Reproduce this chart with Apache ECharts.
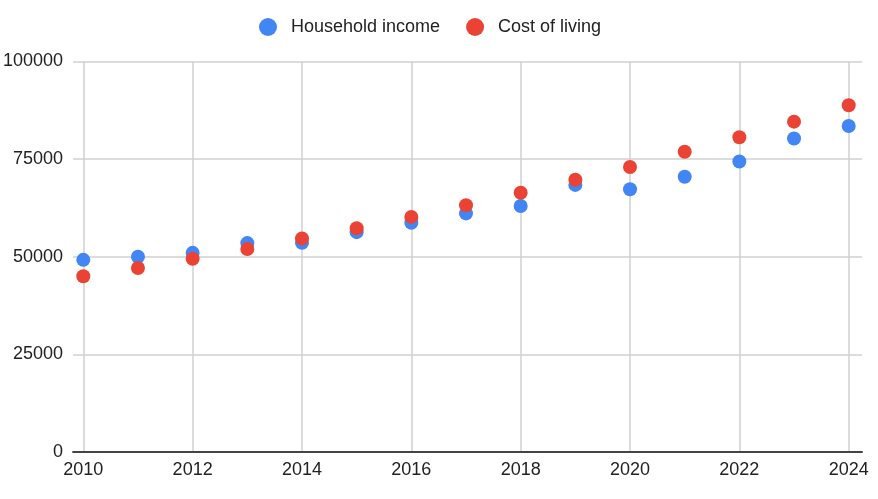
<!DOCTYPE html>
<html>
<head>
<meta charset="utf-8">
<script src="https://cdn.jsdelivr.net/npm/echarts@6/dist/echarts.min.js"></script>
<style>html,body{margin:0;padding:0;background:#fff;}#c{width:878px;height:499px;}</style>
</head>
<body>
<div id="c"></div>
<script>
var years = [2010, 2011, 2012, 2013, 2014, 2015, 2016, 2017, 2018, 2019, 2020, 2021, 2022, 2023, 2024];
var householdIncome = [49200, 50000, 51000, 53500, 53600, 56300, 58700, 61100, 63000, 68400, 67300, 70500, 74400, 80300, 83500];
var costOfLiving = [45000, 47100, 49500, 52000, 54700, 57300, 60200, 63200, 66400, 69700, 73000, 76900, 80600, 84600, 88800];
var seriesNames = ['Household income', 'Cost of living'];
var colors = ['#4285F4', '#EA4335'];

var FONT = '"Liberation Sans", Arial, sans-serif';
function pairs(vals) { return years.map(function (y, i) { return [y, vals[i]]; }); }
function plain(v) { return String(v); }

var chart = echarts.init(document.getElementById('c'), null, { renderer: 'canvas' });
chart.setOption({
  animation: false,
  backgroundColor: '#fff',
  color: colors,
  legend: {
    top: 13,
    left: 254,
    icon: 'circle',
    itemWidth: 18,
    itemHeight: 18,
    itemGap: 26,
    textStyle: { fontFamily: FONT, fontSize: 18, color: '#222', padding: [0, 0, 0, 9] },
    data: seriesNames
  },
  grid: [
    { left: 73, right: 16, top: 61.5, bottom: 47 },
    { left: 83.3, right: 29.3, top: 61.5, bottom: 47 }
  ],
  xAxis: [
    {
      gridIndex: 0, type: 'value', min: 0, max: 1,
      axisLine: { show: true, lineStyle: { color: '#444', width: 2 } },
      axisTick: { show: false }, axisLabel: { show: false }, splitLine: { show: false }
    },
    {
      gridIndex: 1, type: 'value', min: 2010, max: 2024, interval: 2,
      axisLine: { show: false }, axisTick: { show: false },
      axisLabel: { fontFamily: FONT, fontSize: 18, color: '#222', margin: 9, formatter: plain },
      splitLine: { show: true, lineStyle: { color: '#d0d0d0', width: 1.5 } }
    }
  ],
  yAxis: [
    {
      gridIndex: 0, type: 'value', min: 0, max: 100000, interval: 25000,
      axisLine: { show: false }, axisTick: { show: false },
      axisLabel: { fontFamily: FONT, fontSize: 18, color: '#222', margin: 10, formatter: plain },
      splitLine: { show: true, lineStyle: { color: '#d0d0d0', width: 1.5 } }
    },
    {
      gridIndex: 1, type: 'value', min: 0, max: 100000, show: false,
      splitLine: { show: false }
    }
  ],
  series: [
    {
      name: seriesNames[0], type: 'scatter', xAxisIndex: 1, yAxisIndex: 1,
      symbolSize: 14, itemStyle: { color: colors[0], opacity: 1 },
      data: pairs(householdIncome)
    },
    {
      name: seriesNames[1], type: 'scatter', xAxisIndex: 1, yAxisIndex: 1,
      symbolSize: 14, itemStyle: { color: colors[1], opacity: 1 },
      data: pairs(costOfLiving)
    }
  ]
});
</script>
</body>
</html>
